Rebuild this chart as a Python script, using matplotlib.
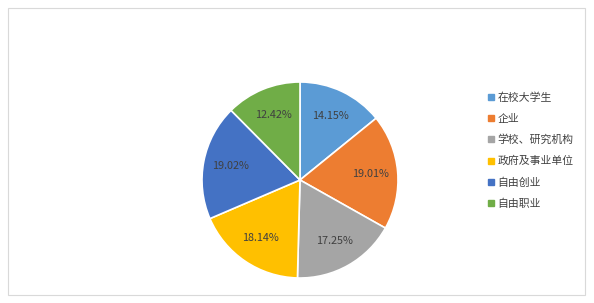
import matplotlib.pyplot as plt
from matplotlib.lines import Line2D
from matplotlib.patches import Rectangle

plt.rcParams['font.family'] = ['Noto Sans CJK SC', 'DejaVu Sans']

categories = ['在校大学生', '企业', '学校、研究机构', '政府及事业单位', '自由创业', '自由职业']
shares = [14.15, 19.01, 17.25, 18.14, 19.02, 12.42]
colors = ['#5B9BD5', '#ED7D31', '#A5A5A5', '#FFC000', '#4472C4', '#70AD47']

W, H = 594, 303
fig = plt.figure(figsize=(W / 100, H / 100), dpi=100)

# light grey chart border
fig.patches.append(Rectangle((8 / W, 8 / H), (585 - 8) / W, (295 - 8) / H,
                             transform=fig.transFigure, fill=False,
                             edgecolor='#D9D9D9', linewidth=0.8))

cx, cy, r = 300, 180, 98
ax = fig.add_axes([(cx - r) / W, (H - cy - r) / H, 2 * r / W, 2 * r / H])

labels_txt = [f"{v:.2f}%" for v in shares]
wedges, texts = ax.pie(shares, colors=colors, startangle=90, counterclock=False,
                       radius=1, wedgeprops=dict(edgecolor='white', linewidth=1.2),
                       labels=labels_txt, labeldistance=0.72)
for t in texts:
    t.set_ha('center')
    t.set_va('center')
    t.set_fontsize(7.8)
    t.set_color('#404040')
ax.set_xlim(-1, 1)
ax.set_ylim(-1, 1)

handles = [Line2D([], [], marker='s', linestyle='none', markersize=4.5,
                  markerfacecolor=c, markeredgecolor=c) for c in colors]
fig.legend(handles, categories, loc='upper left',
           bbox_to_anchor=(484 / W, 1 - 88 / H), frameon=False,
           fontsize=7.8, handlelength=0.55, handletextpad=0.3,
           labelspacing=1.0, borderaxespad=0, labelcolor='#404040')

fig.savefig('out.png', dpi=100)
